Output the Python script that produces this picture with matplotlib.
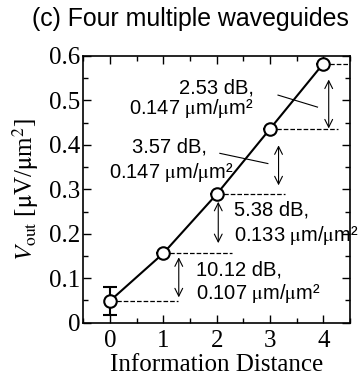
import numpy as np
import matplotlib
matplotlib.use("Agg")
import matplotlib.pyplot as plt
from matplotlib.ticker import MultipleLocator

plt.rcParams['mathtext.fontset'] = 'stix'

# information distance vs output voltage
distance = [0, 1, 2, 3, 4]
v_start = 0.049
step_db = ["10.12", "5.38", "3.57", "2.53"]
step_area = [0.107, 0.133, 0.147, 0.147]
v_err = [0.032, 0, 0, 0, 0]

v_out = np.concatenate([[v_start], v_start + np.cumsum(step_area)])

fig = plt.figure(figsize=(3.62, 3.75), dpi=100)
ax = fig.add_axes([0.230, 0.1395, 0.737, 0.7112])

# dashed reference levels and double arrows for each step
for i in range(len(distance)):
    ax.plot([distance[i], distance[i] + 1.28], [v_out[i], v_out[i]], '--',
            color='black', lw=0.9, zorder=1)

arrow_x = [1.29, 2.03, 3.16, 4.1]
arrow_pad = [(0.009, 0.008), (0.017, 0.023), (0.037, 0.020), (0.036, 0.001)]
for k in range(4):
    lo = v_out[k] + arrow_pad[k][1]
    hi = v_out[k + 1] - arrow_pad[k][0]
    ax.annotate('', xy=(arrow_x[k], hi), xytext=(arrow_x[k], lo),
                arrowprops=dict(arrowstyle='<->', lw=0.8, color='black',
                                mutation_scale=14, shrinkA=0, shrinkB=0))

ax.errorbar(distance, v_out, yerr=v_err, color='black', lw=1.5,
            marker='o', markersize=9, markerfacecolor='white',
            markeredgewidth=1.5, capsize=5, capthick=1.5, zorder=3)

# step labels
sans = ['Liberation Sans', 'DejaVu Sans']
lab_fs = 14.5
unit = "%.3f $\\mathrm{\\mu}$m/$\\mathrm{\\mu}$m²"
ax.text(1.62, 0.118, step_db[0] + " dB,", family=sans, fontsize=lab_fs, va='center')
ax.text(1.62, 0.066, unit % step_area[0], family=sans,
        fontsize=lab_fs, va='center')
ax.text(2.33, 0.253, step_db[1] + " dB,", family=sans, fontsize=lab_fs, va='center')
ax.text(2.33, 0.197, unit % step_area[1], family=sans,
        fontsize=lab_fs, va='center', clip_on=False)
ax.text(0.42, 0.395, step_db[2] + " dB,", family=sans, fontsize=lab_fs, va='center')
ax.text(-0.02, 0.339, unit % step_area[2], family=sans,
        fontsize=lab_fs, va='center')
ax.text(2.7, 0.527, step_db[3] + " dB,", family=sans, fontsize=lab_fs,
        va='center', ha='right')
ax.text(2.7, 0.482, unit % step_area[3], family=sans,
        fontsize=lab_fs, va='center', ha='right')

ax.plot([2.06, 2.96], [0.381, 0.358], color='black', lw=0.8)
ax.plot([3.15, 3.89], [0.512, 0.485], color='black', lw=0.8)

ax.set_xlim(-0.5, 4.5)
ax.set_ylim(0, 0.6)
ax.xaxis.set_major_locator(MultipleLocator(1))
ax.xaxis.set_minor_locator(MultipleLocator(0.5))
ax.yaxis.set_major_locator(MultipleLocator(0.1))
ax.yaxis.set_minor_locator(MultipleLocator(0.05))
ax.set_yticks([0, 0.1, 0.2, 0.3, 0.4, 0.5, 0.6])
ax.set_yticklabels(['0', '0.1', '0.2', '0.3', '0.4', '0.5', '0.6'])
ax.tick_params(which='both', direction='in', top=True, right=True, width=1.0)
ax.tick_params(which='major', length=6, labelsize=18, pad=2)
ax.tick_params(axis='x', which='major', pad=5)
ax.tick_params(which='minor', length=3.5)
for lbl in ax.get_xticklabels() + ax.get_yticklabels():
    lbl.set_family('Liberation Serif')
for sp in ax.spines.values():
    sp.set_linewidth(1.2)

ax.set_xlabel('Information Distance', family='Liberation Serif', fontsize=18, labelpad=2)
ax.set_ylabel('$V_{\\mathrm{out}}$ [$\\mathrm{\\mu}$V/$\\mathrm{\\mu}$m$^2$]',
              family='Liberation Serif', fontsize=18, labelpad=6)

fig.text(0.526, 0.949, '(c) Four multiple waveguides', family=sans,
         fontsize=17.9, ha='center', va='center')

fig.savefig('out.png', dpi=100)
